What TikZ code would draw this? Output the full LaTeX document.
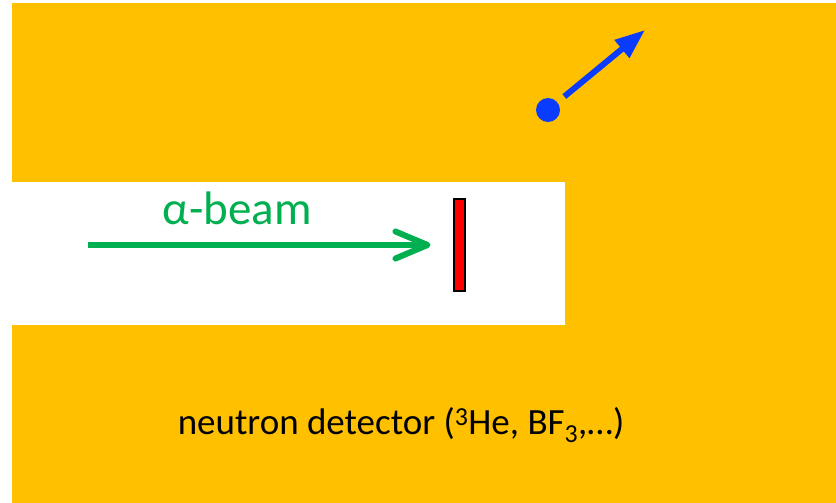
\documentclass[tikz,border=0pt]{standalone}
\usepackage{fontspec}
\setmainfont{Carlito}
\usetikzlibrary{arrows.meta}
\definecolor{shield}{HTML}{FFC000}
\definecolor{beamgreen}{HTML}{00B050}
\definecolor{neutronblue}{HTML}{0A3CFF}
\definecolor{foilred}{HTML}{FF0000}

\begin{document}
\begin{tikzpicture}[
        x=1pt, y=-1pt,
        foil/.style={
            draw=black,
            fill=foilred,
            line width=2pt,
            minimum width=11pt,
            minimum height=92pt,
            inner sep=0pt
        },
        particle/.style={circle, fill=neutronblue, minimum size=24pt, inner sep=0pt},
        beam/.style={-{Straight Barb[length=32pt, width=27pt, round]}, line width=6pt, draw=beamgreen},
        neutronarrow/.style={-{Triangle[length=30pt, width=22pt]}, line width=6pt, draw=neutronblue, shorten <=9pt},
        beamlabel/.style={text=beamgreen, font=\fontsize{47}{54}\selectfont, inner sep=0pt},
        detectorlabel/.style={text=black, font=\fontsize{37}{44}\selectfont, inner sep=0pt}
    ]
        \useasboundingbox (0,0) rectangle (836,503);
        % shielding block with the beam channel cut out
        \fill[shield] (12,3) rectangle (836,503);
        \fill[white] (12,182) rectangle (565,325);

        \node[foil] (target) at (459,245) {};
        \node[particle] (neutron) at (548,110) {};
        \coordinate (beamstart) at (88,245);
        \coordinate (neutronend) at (645,30);

        \node[beamlabel] (alphalabel) at (237,208) {α-beam};
        \node[detectorlabel] (detectorlabel) at (401,425) {neutron detector (\textsuperscript{3}He, BF\textsubscript{3},…)};

        \draw[beam] (beamstart) -- ([xshift=-22pt]target.west);
        \draw[neutronarrow] (neutron) -- (neutronend);
\end{tikzpicture}
\end{document}
